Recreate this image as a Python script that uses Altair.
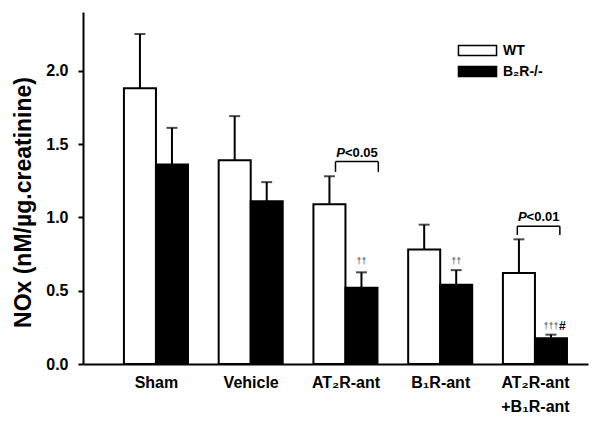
import json
import altair as alt
import pandas as pd

# ---- data ----
groups = ["Sham", "Vehicle", "AT₂R-ant", "B₁R-ant", "AT₂R-ant +B₁R-ant"]
group_lines = [["Sham"], ["Vehicle"], ["AT₂R-ant"], ["B₁R-ant"], ["AT₂R-ant", "+B₁R-ant"]]
series = ["WT", "B₂R-/-"]
wt_mean = [1.88, 1.39, 1.09, 0.78, 0.62]
wt_top = [2.25, 1.69, 1.28, 0.95, 0.85]
ko_mean = [1.36, 1.11, 0.52, 0.54, 0.175]
ko_top = [1.61, 1.24, 0.625, 0.64, 0.20]

# significance brackets (group index, left/right offset from group centre, heights)
br_group = [2, 4]
br_left = [-0.105, -0.186]
br_right = [0.347, 0.263]
br_top = [1.38, 0.94]
br_bottom = [1.31, 0.88]
br_label = ["<0.05", "<0.01"]

# daggers above the B2R-/- bars
dag_group = [2, 3, 4]
dag_text = ["††", "††", "†††"]
dag_y = [0.70, 0.70, 0.26]
hash_group = [4]
hash_y = [0.26]

BW = 0.338  # bar width in group units
FONT = "Liberation Sans"

rows = []
for i, g in enumerate(groups):
    for s, (m, t) in enumerate([(wt_mean[i], wt_top[i]), (ko_mean[i], ko_top[i])]):
        x0 = i + (s - 1) * BW
        rows.append(dict(group=g, series=series[s], mean=m, top=t,
                         x0=x0, x1=x0 + BW, xc=x0 + BW / 2, zero=0.0))
df = pd.DataFrame(rows)

xscale = alt.Scale(domain=[-0.77, 4.56], nice=False, zero=False)
yscale = alt.Scale(domain=[0, 2.4], nice=False)

label_expr = json.dumps(group_lines, ensure_ascii=False) + "[round(datum.value)]"

xaxis = alt.Axis(values=list(range(len(groups))), labelExpr=label_expr,
                 title=None, ticks=False, grid=False, labelFlush=False,
                 domainColor="black", domainWidth=2, labelFont=FONT,
                 labelFontSize=16, labelFontWeight="bold", labelColor="black",
                 labelPadding=10, labelLineHeight=24, labelBaseline="top")
yaxis = alt.Axis(values=[0, 0.5, 1.0, 1.5, 2.0], format=".1f",
                 title="NOx (nM/µg.creatinine)", grid=False,
                 domainColor="black", domainWidth=2, tickColor="black",
                 tickWidth=2, tickSize=5, labelPadding=10, labelFont=FONT,
                 labelFontSize=16, labelFontWeight="bold", labelColor="black",
                 titleFont=FONT, titleFontSize=23, titleFontWeight="bold",
                 titleColor="black", titleAngle=-90, titleAlign="center",
                 titleBaseline="middle", titleX=-60, titleY=190)


def X(field):
    return alt.X(field, scale=xscale, axis=xaxis)


def Y(field):
    return alt.Y(field, scale=yscale, axis=yaxis)


base = alt.Chart(df)

bars = base.mark_bar(stroke="black", strokeWidth=2).encode(
    x=X("x0:Q"), x2="x1:Q", y=Y("mean:Q"), y2="zero:Q",
    fill=alt.Fill("series:N", scale=alt.Scale(domain=series, range=["white", "black"]),
                  legend=alt.Legend(title=None, orient="none", legendX=387, legendY=31,
                                    symbolType="M-3,-0.8H3V0.8H-3Z", symbolSize=161,
                                    symbolStrokeColor="black", symbolStrokeWidth=1.5,
                                    labelFont=FONT, labelFontSize=14,
                                    labelFontWeight="bold", labelColor="black",
                                    labelOffset=18, rowPadding=4)),
)

err = base.mark_rule(color="black", strokeWidth=2).encode(
    x=X("xc:Q"), y=Y("mean:Q"), y2="top:Q")
caps = base.mark_tick(color="black", orient="horizontal", size=11, thickness=2).encode(
    x=X("xc:Q"), y=Y("top:Q"))

bdf = pd.DataFrame(dict(g=br_group, lo=br_left, hi=br_right, top=br_top,
                        bot=br_bottom, lab=br_label))
bdf["xl"] = bdf["g"] + bdf["lo"]
bdf["xr"] = bdf["g"] + bdf["hi"]
bdf["xm"] = (bdf["xl"] + bdf["xr"]) / 2
vdf = pd.concat([bdf.assign(xv=bdf["xl"]), bdf.assign(xv=bdf["xr"])])

br_h = alt.Chart(bdf).mark_rule(color="black", strokeWidth=1.5).encode(
    x=X("xl:Q"), x2="xr:Q", y=Y("top:Q"))
br_v = alt.Chart(vdf).mark_rule(color="black", strokeWidth=1.5).encode(
    x=X("xv:Q"), y=Y("top:Q"), y2="bot:Q")
br_p = alt.Chart(bdf).mark_text(font=FONT, fontSize=13, fontWeight="bold", fontStyle="italic",
                                align="right", baseline="alphabetic", dx=-12, dy=-5,
                                color="black").encode(
    x=X("xm:Q"), y=Y("top:Q"), text=alt.value("P"))
br_t = alt.Chart(bdf).mark_text(font=FONT, fontSize=13, fontWeight="bold",
                                align="left", baseline="alphabetic", dx=-12, dy=-5,
                                color="black").encode(
    x=X("xm:Q"), y=Y("top:Q"), text="lab:N")

ddf = pd.DataFrame(dict(g=dag_group, t=dag_text, y=dag_y))
ddf["x"] = ddf["g"] + BW / 2
dag = alt.Chart(ddf).mark_text(font=FONT, fontSize=9, color="#444444",
                               baseline="middle").encode(
    x=X("x:Q"), y=Y("y:Q"), text="t:N")

hdf = pd.DataFrame(dict(g=hash_group, y=hash_y))
hdf["x"] = hdf["g"] + BW / 2
hsh = alt.Chart(hdf).mark_text(font=FONT, fontSize=12, fontWeight="bold", color="black",
                               align="left", baseline="middle", dx=8).encode(
    x=X("x:Q"), y=Y("y:Q"), text=alt.value("#"))

chart = alt.layer(bars, err, caps, br_h, br_v, br_p, br_t, dag, hsh).properties(
    width=505, height=352,
    autosize=alt.AutoSizeParams(type="none"),
    padding={"left": 75, "top": 4, "right": 5, "bottom": 53},
).configure(background="white", font=FONT, view=alt.ViewConfig(stroke=None))

chart.save("out.html", embed_options={"renderer": "svg", "actions": False})
